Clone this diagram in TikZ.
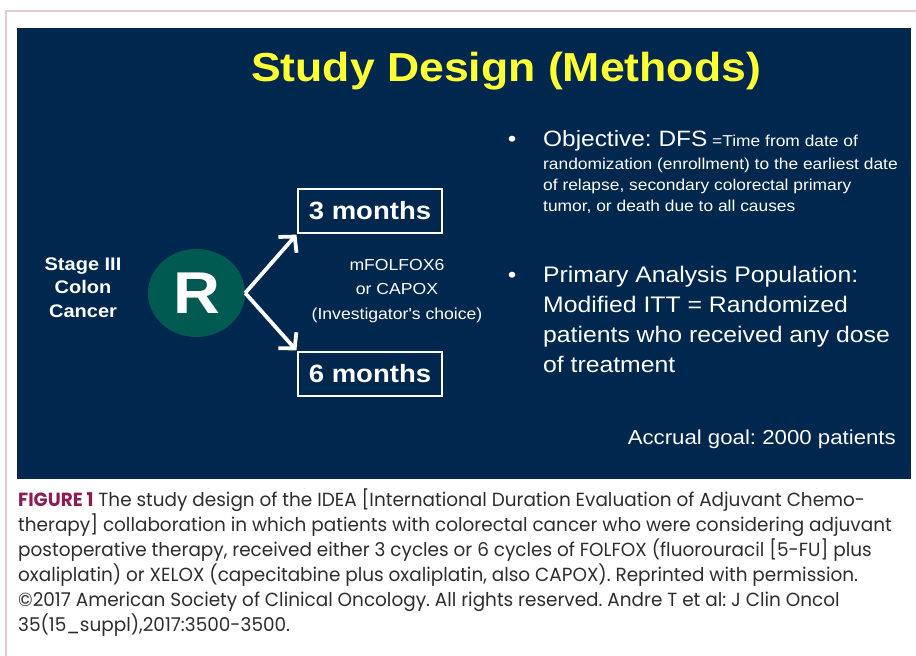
\documentclass[tikz,border=0pt]{standalone}
\usepackage{fontspec}
\setmainfont{Liberation Sans}
\newfontfamily\slidefont[FakeStretch=1.1]{Liberation Sans}
\newfontfamily\capfont[FakeStretch=0.97]{Poppins}
\usetikzlibrary{arrows.meta,positioning,shapes.geometric}
\frenchspacing

\definecolor{slidenavy}{RGB}{0,39,78}
\definecolor{randteal}{RGB}{0,90,82}
\definecolor{titleyellow}{RGB}{255,255,51}
\definecolor{framepink}{RGB}{226,201,210}
\definecolor{figlabel}{RGB}{140,28,82}
\definecolor{captiongray}{RGB}{45,45,45}

\tikzset{
  slidetext/.style={text=white, inner sep=0pt, font=\slidefont},
  armbox/.style={draw=white, line width=1.8pt, minimum width=144pt, minimum height=44pt,
    inner sep=0pt, text=white, font=\slidefont\bfseries\fontsize{25}{30}\selectfont},
  armarrow/.style={draw=white, line width=3.8pt, -{Straight Barb[length=11pt,width=24pt]}, shorten >=1pt},
}

\begin{document}
\begin{tikzpicture}[x=1pt,y=-1pt]
\useasboundingbox (0,0) rectangle (916,656);
% frame and slide
\draw[framepink,line width=2pt] (5.5,656) -- (5.5,11) -- (916,11);
\fill[slidenavy] (17,28) rectangle (911,479);

\node[slidetext,text=titleyellow,anchor=base,font=\slidefont\bfseries\fontsize{40.5}{48}\selectfont] (title) at (506,81) {Study Design (Methods)};

% randomisation
\node[slidetext,anchor=base,font=\slidefont\bfseries\fontsize{18.2}{23.8}\selectfont] (stage) at (83,270)
  {\begin{tabular}[t]{@{}c@{}}Stage III\\Colon\\Cancer\end{tabular}};
\node[ellipse,fill=randteal,minimum width=97pt,minimum height=88pt,inner sep=0pt,text=white,
  font=\slidefont\bfseries\fontsize{59}{60}\selectfont] (rand) at (196.5,293) {R};

\node[armbox] (three) at (370,211) {3 months};
\node[armbox] (six) at (370,374) {6 months};
\draw[armarrow] (rand.east) -- (three.south west);
\draw[armarrow] (rand.east) -- (six.north west);

\node[slidetext,anchor=base,font=\slidefont\fontsize{16}{24.5}\selectfont] (regimen) at (397,270)
  {\begin{tabular}[t]{@{}c@{}}mFOLFOX6\\or CAPOX\\(Investigator's choice)\end{tabular}};

% right column
\node[slidetext,anchor=base,font=\slidefont\fontsize{22}{26}\selectfont] (dot1) at (512,146) {•};
\node[slidetext,anchor=base west,font=\slidefont\fontsize{15.8}{21}\selectfont] (objective) at (543,146)
  {\begin{tabular}[t]{@{}l@{}}{\fontsize{22.2}{26}\selectfont Objective: DFS} =Time from date of\\[2pt]
   randomization (enrollment) to the earliest date\\
   of relapse, secondary colorectal primary\\
   tumor, or death due to all causes\end{tabular}};
\node[slidetext,anchor=base,font=\slidefont\fontsize{22}{26}\selectfont] (dot2) at (512,282) {•};
\node[slidetext,anchor=base west,font=\slidefont\fontsize{22.5}{30}\selectfont] (population) at (543,282)
  {\begin{tabular}[t]{@{}l@{}}Primary Analysis Population:\\
   Modified ITT = Randomized\\
   patients who received any dose\\
   of treatment\end{tabular}};
\node[slidetext,anchor=base east,font=\slidefont\fontsize{20.2}{24}\selectfont] (accrual) at (896,444) {Accrual goal: 2000 patients};

% caption
\node[anchor=base west,inner sep=0pt,text=captiongray,font=\capfont\fontsize{19}{25}\selectfont] (caption) at (18,506)
  {\begin{tabular}[t]{@{}l@{}}{\bfseries\color{figlabel}FIGURE 1} The study design of the IDEA [International Duration Evaluation of Adjuvant Chemo-\\
   therapy] collaboration in which patients with colorectal cancer who were considering adjuvant\\
   postoperative therapy, received either 3 cycles or 6 cycles of FOLFOX (fluorouracil [5-FU] plus\\
   oxaliplatin) or XELOX (capecitabine plus oxaliplatin, also CAPOX). Reprinted with permission.\\
   ©2017 American Society of Clinical Oncology. All rights reserved. Andre T et al: J Clin Oncol\\
   35(15\_suppl),2017:3500-3500.\end{tabular}};
\end{tikzpicture}
\end{document}
